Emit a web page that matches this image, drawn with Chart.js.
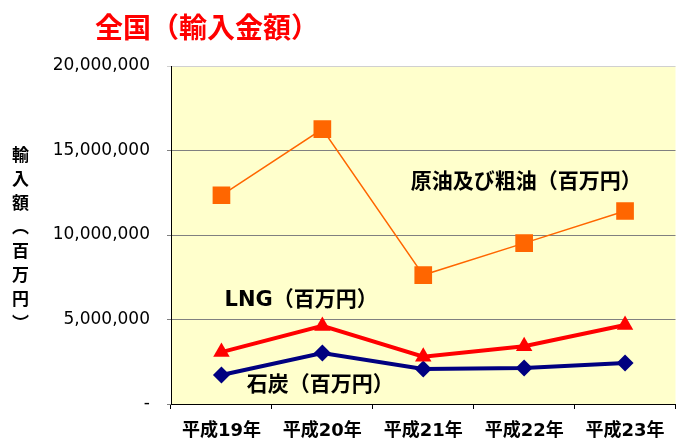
<!DOCTYPE html>
<html><head><meta charset="utf-8">
<script src="https://cdn.jsdelivr.net/npm/chart.js@4/dist/chart.umd.min.js"></script>
<style>
html,body{margin:0;padding:0;background:#fff;}
#wrap{position:relative;width:688px;height:439px;}
#title{position:absolute;left:95px;top:8px;font:bold 28px "Noto Sans CJK JP",sans-serif;color:#FF0000;white-space:nowrap;line-height:36px;}
#ytitle{position:absolute;left:10px;top:146px;writing-mode:vertical-rl;font:bold 17px "Noto Sans CJK JP",sans-serif;letter-spacing:7px;color:#000;line-height:20px;}
canvas{position:absolute;left:0;top:0;}
</style></head>
<body><div id="wrap">
<canvas id="c" width="688" height="439"></canvas>
<div id="title">全国（輸入金額）</div>
<div id="ytitle">輸入額（百万円）</div>
</div>
<script>
const categories = ['平成19年','平成20年','平成21年','平成22年','平成23年'];
const crudeOil = [12350000, 16270000, 7630000, 9520000, 11420000];
const lng = [3070000, 4620000, 2800000, 3420000, 4670000];
const coal = [1720000, 3020000, 2070000, 2130000, 2430000];
const yTickLabels = ['-', '5,000,000', '10,000,000', '15,000,000', '20,000,000'];
const seriesNames = ['原油及び粗油（百万円）', 'LNG（百万円）', '石炭（百万円）'];
// label anchors: [category position, value]
const labelAnchors = [[3.02, 13080000], [0.79, 6150000], [0.98, 1120000]];

const plotBg = {
  id: 'plotBg',
  beforeDraw(chart) {
    const {ctx, chartArea: a} = chart;
    ctx.save();
    ctx.fillStyle = '#FFFFCC';
    ctx.fillRect(a.left, a.top, a.right - a.left, a.bottom - a.top);
    ctx.restore();
  }
};
const seriesLabels = {
  id: 'seriesLabels',
  afterDatasetsDraw(chart) {
    const {ctx, scales: {x, y}} = chart;
    ctx.save();
    ctx.font = 'bold 21px "DejaVu Sans","Noto Sans CJK JP",sans-serif';
    ctx.fillStyle = '#000';
    ctx.textAlign = 'center';
    ctx.textBaseline = 'middle';
    seriesNames.forEach((n, i) => {
      ctx.fillText(n, x.getPixelForValue(labelAnchors[i][0]), y.getPixelForValue(labelAnchors[i][1]));
    });
    ctx.restore();
  }
};

new Chart(document.getElementById('c'), {
  type: 'line',
  data: {
    labels: categories,
    datasets: [
      {label: seriesNames[0], data: crudeOil, borderColor: '#FF6600', backgroundColor: '#FF6600', borderWidth: 1.5,
       pointStyle: 'rect', pointRadius: 12.5, pointHoverRadius: 12.5, pointBorderWidth: 0, tension: 0},
      {label: seriesNames[1], data: lng, borderColor: '#FF0000', backgroundColor: '#FF0000', borderWidth: 4,
       pointStyle: 'triangle', pointRadius: 9.5, pointHoverRadius: 9.5, pointBorderWidth: 0, tension: 0},
      {label: seriesNames[2], data: coal, borderColor: '#000080', backgroundColor: '#000080', borderWidth: 4,
       pointStyle: 'rectRot', pointRadius: 8.5, pointHoverRadius: 8.5, pointBorderWidth: 0, tension: 0}
    ]
  },
  options: {
    responsive: false,
    animation: false,
    devicePixelRatio: 1,
    layout: {padding: {top: 66, right: 11, left: 0, bottom: 0}},
    plugins: {legend: {display: false}, title: {display: false}, tooltip: {enabled: false}},
    scales: {
      x: {
        offset: true,
        grid: {offset: true, drawOnChartArea: false, drawTicks: true, tickLength: 5, color: '#000'},
        border: {display: true, color: '#000', width: 1},
        ticks: {font: {family: '"DejaVu Sans","Noto Sans CJK JP",sans-serif', size: 18, weight: 'bold'}, color: '#000', padding: 12, maxRotation: 0},
        afterFit(s) { s.height = 35; }
      },
      y: {
        min: 0, max: 20000000,
        ticks: {stepSize: 5000000, padding: 17, color: '#000',
          font: {family: '"DejaVu Sans",sans-serif', size: 17},
          callback: (v, i) => yTickLabels[i]},
        grid: {color: (c) => (c.tick && c.tick.value === 20000000) ? '#d0d0d0' : '#808080', tickLength: 4, drawTicks: true},
        border: {display: true, color: '#000', width: 1},
        afterFit(s) { s.width = 171; }
      }
    }
  },
  plugins: [plotBg, seriesLabels]
});
</script>
</body></html>
